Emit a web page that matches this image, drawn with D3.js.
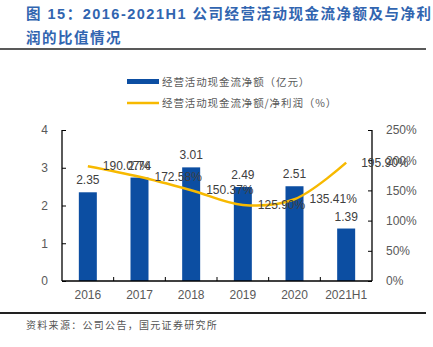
<!DOCTYPE html>
<html><head><meta charset="utf-8">
<script src="https://cdn.jsdelivr.net/npm/d3@7"></script>
<style>
body{margin:0;background:#fff;}
svg{display:block;font-family:"Liberation Sans",Arial,sans-serif;}
</style></head>
<body><svg id="c" width="433" height="347"></svg>
<script>
const categories = ["2016","2017","2018","2019","2020","2021H1"];
const cashFlow = [2.35,2.74,3.01,2.49,2.51,1.39];
const ratioPct = [190.07,172.58,150.37,125.90,135.41,195.90];
const leftTicks = [0,1,2,3,4];
const rightTicks = [0,50,100,150,200,250];
const legendLabels = ["经营活动现金流净额（亿元）","经营活动现金流净额/净利润（%）"];
const titleLines = ["图 15：2016-2021H1 公司经营活动现金流净额及与净利","润的比值情况"];
const sourceText = "资料来源：公司公告，国元证券研究所";

const svg = d3.select("#c");
const L = 62, R = 372, T = 130, B = 281;
const blue = "#0c4ea2", gold = "#f7b900", textC = "#595959";

const x = d3.scaleBand().domain(categories).range([L,R]).padding(0);
const yL = d3.scaleLinear().domain([0,4]).range([B,T]);
const yR = d3.scaleLinear().domain([0,250]).range([B,T]);

// title
const titleG = svg.append("g").attr("fill","#3165b0").attr("font-weight","bold")
  .attr("font-family","'Liberation Sans','Noto Sans CJK SC',sans-serif").attr("font-size",14.5);
titleLines.forEach((t,i)=>{
  titleG.append("text").attr("x",26).attr("y",19+i*24).attr("letter-spacing",1.5).text(t);
});
svg.append("line").attr("x1",0).attr("x2",426).attr("y1",49).attr("y2",49).attr("stroke","#222").attr("stroke-width",1.5);
svg.append("line").attr("x1",0).attr("x2",426).attr("y1",313).attr("y2",313).attr("stroke","#222").attr("stroke-width",2);
svg.append("text").attr("x",26).attr("y",329).attr("font-size",10).attr("fill","#555")
  .attr("font-family","'Noto Sans CJK SC',sans-serif").attr("letter-spacing",1.3).text(sourceText);

// legend
const lg = svg.append("g").attr("font-family","'Noto Sans CJK SC',sans-serif").attr("font-size",10.5).attr("fill",textC);
lg.append("rect").attr("x",127).attr("y",79).attr("width",32).attr("height",5).attr("fill",blue);
lg.append("text").attr("x",162).attr("y",82).attr("dy","0.35em").attr("letter-spacing",0.9).text(legendLabels[0]);
lg.append("line").attr("x1",127).attr("x2",159).attr("y1",103).attr("y2",103).attr("stroke",gold).attr("stroke-width",2.5);
lg.append("text").attr("x",162).attr("y",103).attr("dy","0.35em").attr("letter-spacing",0.9).text(legendLabels[1]);

// bars
const bw = 18;
svg.append("g").selectAll("rect").data(cashFlow).join("rect")
  .attr("x",(d,i)=>x(categories[i])+x.bandwidth()/2-bw/2)
  .attr("y",d=>yL(d)).attr("width",bw).attr("height",d=>B-yL(d))
  .attr("fill",blue);

// axes
const axL = d3.axisLeft(yL).tickValues(leftTicks).tickSize(-4).tickPadding(14).tickFormat(d3.format("d"));
const axR = d3.axisRight(yR).tickValues(rightTicks).tickSize(-4).tickPadding(14).tickFormat(d=>d+"%");
const gl = svg.append("g").attr("transform",`translate(${L},0)`).call(axL);
const gr = svg.append("g").attr("transform",`translate(${R},0)`).call(axR);
const axX = d3.axisBottom(x).tickSize(0).tickPadding(9);
const gx = svg.append("g").attr("transform",`translate(0,${B})`).call(axX);
// x boundary ticks
svg.append("g").selectAll("line").data(categories.slice(1)).join("line")
  .attr("x1",d=>x(d)).attr("x2",d=>x(d)).attr("y1",B).attr("y2",B-4).attr("stroke","#000").attr("stroke-width",1);
[gl,gr,gx].forEach(g=>{
  g.select(".domain").attr("stroke","#000").attr("stroke-width",1.3);
  g.selectAll(".tick line").attr("stroke","#000");
  g.selectAll("text").attr("fill",textC).attr("font-size",12).attr("font-family","'Liberation Sans',Arial,sans-serif");
});
gl.select(".domain").attr("d",`M0,${T}V${B}`);
gr.select(".domain").attr("d",`M0,${T}V${B}`);
gx.select(".domain").attr("d",`M${L},0H${R}`);

// line
const cx = i=>x(categories[i])+x.bandwidth()/2;
const line = d3.line().x((d,i)=>cx(i)).y(d=>yR(d)).curve(d3.curveCatmullRom.alpha(0.5));
svg.append("path").datum(ratioPct).attr("d",line).attr("fill","none").attr("stroke",gold).attr("stroke-width",2.5);

// bar labels
svg.append("g").selectAll("text").data(cashFlow).join("text")
  .attr("x",(d,i)=>cx(i)).attr("y",d=>yL(d)-8).attr("text-anchor","middle")
  .attr("font-size",12).attr("fill","#404040").text(d=>d.toFixed(2));
// line labels
svg.append("g").selectAll("text").data(ratioPct).join("text")
  .attr("x",(d,i)=>cx(i)+15).attr("y",d=>yR(d)).attr("dy","0.35em")
  .attr("font-size",12).attr("fill","#404040").text(d=>d.toFixed(2)+"%");
</script></body></html>
